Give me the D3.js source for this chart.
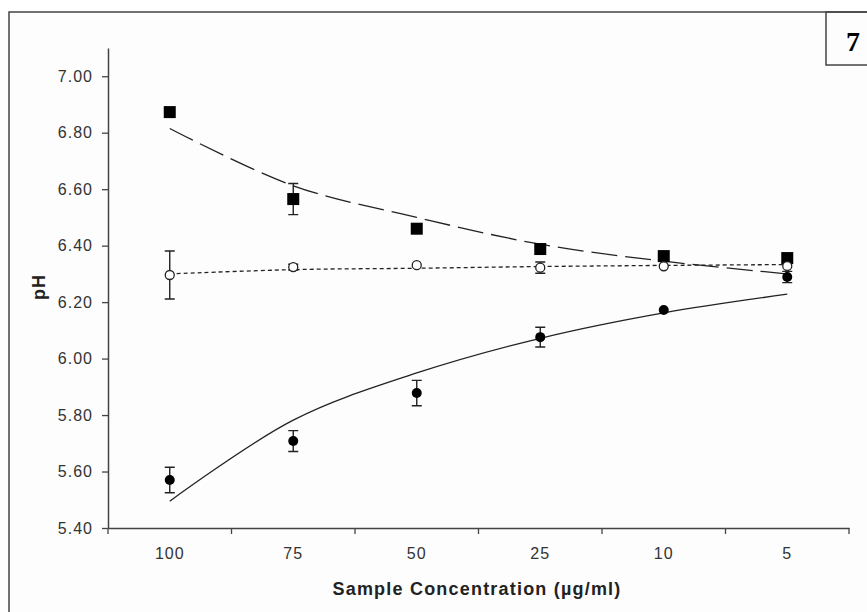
<!DOCTYPE html>
<html>
<head>
<meta charset="utf-8">
<script src="https://cdn.jsdelivr.net/npm/d3@7"></script>
<style>
  body { margin: 0; background: #fff; }
  text { font-family: "Liberation Sans", Arial, sans-serif; }
</style>
</head>
<body>
<div id="plot"></div>
<script>
// categories on the x axis
const concentrations = ["100", "75", "50", "25", "10", "5"];

// filled squares
const sqValues = [6.873, 6.565, 6.46, 6.388, 6.363, 6.356];
const sqErrors = [0, 0.055, 0, 0, 0, 0];
const sqTrend = [6.815, 6.612, 6.50, 6.405, 6.345, 6.30];

// open circles
const openValues = [6.296, 6.324, 6.331, 6.322, 6.327, 6.328];
const openErrors = [0.085, 0.01, 0, 0.02, 0, 0];
const openTrend = [6.30, 6.315, 6.32, 6.326, 6.33, 6.333];

// filled circles
const dotValues = [5.570, 5.708, 5.878, 6.076, 6.172, 6.289];
const dotErrors = [0.045, 0.037, 0.045, 0.035, 0, 0.02];
const dotTrend = [5.495, 5.782, 5.949, 6.072, 6.162, 6.228];

const yTicks = [5.4, 5.6, 5.8, 6.0, 6.2, 6.4, 6.6, 6.8, 7.0];

const width = 867, height = 612;

const svg = d3.select("#plot")
    .append("svg")
    .attr("width", width)
    .attr("height", height);

// outer frame (runs off the right and bottom edges)
svg.append("rect")
    .attr("x", 9).attr("y", 12)
    .attr("width", 900).attr("height", 700)
    .attr("fill", "#fdfdfd")
    .attr("stroke", "#444")
    .attr("stroke-width", 1.5);

// panel number box
svg.append("rect")
    .attr("x", 826).attr("y", 12)
    .attr("width", 60).attr("height", 53)
    .attr("fill", "none")
    .attr("stroke", "#444")
    .attr("stroke-width", 1.5);
svg.append("text")
    .attr("x", 853).attr("y", 51)
    .attr("text-anchor", "middle")
    .style("font-family", "'Liberation Serif', 'Times New Roman', serif")
    .style("font-weight", "bold")
    .style("font-size", "28px")
    .text("7");

const xScale = d3.scaleBand()
    .domain(concentrations)
    .range([108, 849])
    .padding(0);

const yScale = d3.scaleLinear()
    .domain([5.4, 7.1])
    .range([528, 48]);

const cx = (i) => xScale(concentrations[i]) + xScale.bandwidth() / 2;

// y axis
const yAxis = svg.append("g")
    .attr("transform", "translate(108,0)")
    .call(d3.axisLeft(yScale).tickValues(yTicks).tickFormat(d3.format(".2f")).tickSize(6).tickPadding(9).tickSizeOuter(0));
yAxis.select(".domain").attr("stroke", "#444").attr("stroke-width", 1.5);
yAxis.selectAll(".tick line").attr("stroke", "#444").attr("stroke-width", 1.3);
yAxis.selectAll("text")
    .attr("fill", "#333")
    .style("font-size", "16px")
    .style("letter-spacing", "1px");

// x axis: labels centred in bands, ticks on band edges
const xAxis = svg.append("g")
    .attr("transform", "translate(0,528)")
    .call(d3.axisBottom(xScale).tickSize(0).tickPadding(20));
xAxis.select(".domain").attr("stroke", "#444").attr("stroke-width", 1.5);
xAxis.selectAll("text")
    .attr("fill", "#333")
    .style("font-size", "16px")
    .style("letter-spacing", "1px");

const edges = concentrations.map(c => xScale(c)).concat([xScale.range()[1]]);
xAxis.selectAll(".edge-tick")
    .data(edges)
    .join("line")
    .attr("class", "edge-tick")
    .attr("x1", d => d).attr("x2", d => d)
    .attr("y1", 0).attr("y2", 6)
    .attr("stroke", "#444")
    .attr("stroke-width", 1.3);

// axis titles
svg.append("text")
    .attr("x", 477).attr("y", 595)
    .attr("text-anchor", "middle")
    .attr("fill", "#222")
    .style("letter-spacing", "1.2px")
    .style("font-weight", "bold")
    .style("font-size", "18px")
    .text("Sample Concentration (µg/ml)");

svg.append("text")
    .attr("transform", "translate(45,287) rotate(-90)")
    .attr("text-anchor", "middle")
    .attr("fill", "#222")
    .style("letter-spacing", "1px")
    .style("font-weight", "bold")
    .style("font-size", "18px")
    .text("pH");

// trend lines
const line = d3.line()
    .x((d, i) => cx(i))
    .y(d => yScale(d))
    .curve(d3.curveCatmullRom.alpha(0.5));

const trends = [
    { data: sqTrend, dash: "26,8" },
    { data: openTrend, dash: "4,3" },
    { data: dotTrend, dash: null }
];
svg.selectAll(".trend")
    .data(trends)
    .join("path")
    .attr("class", "trend")
    .attr("d", d => line(d.data))
    .attr("fill", "none")
    .attr("stroke", "#222")
    .attr("stroke-width", 1.3)
    .attr("stroke-dasharray", d => d.dash);

// error bars
const drawErrors = (vals, errs) => {
    const g = svg.append("g");
    const rows = vals.map((v, i) => ({ i, v, e: errs[i] })).filter(d => d.e > 0);
    g.selectAll(".eb")
        .data(rows)
        .join("path")
        .attr("class", "eb")
        .attr("d", d => {
            const x = cx(d.i), y1 = yScale(d.v + d.e), y2 = yScale(d.v - d.e);
            return `M${x},${y1}V${y2}M${x - 5},${y1}H${x + 5}M${x - 5},${y2}H${x + 5}`;
        })
        .attr("fill", "none")
        .attr("stroke", "#222")
        .attr("stroke-width", 1.4);
};
drawErrors(sqValues, sqErrors);
drawErrors(openValues, openErrors);
drawErrors(dotValues, dotErrors);

// markers
svg.selectAll(".sq")
    .data(sqValues)
    .join("rect")
    .attr("class", "sq")
    .attr("x", (d, i) => cx(i) - 6)
    .attr("y", d => yScale(d) - 6)
    .attr("width", 12).attr("height", 12)
    .attr("fill", "#000");

svg.selectAll(".open")
    .data(openValues)
    .join("circle")
    .attr("class", "open")
    .attr("cx", (d, i) => cx(i))
    .attr("cy", d => yScale(d))
    .attr("r", 4.5)
    .attr("fill", "#fff")
    .attr("stroke", "#222")
    .attr("stroke-width", 1.3);

svg.selectAll(".dot")
    .data(dotValues)
    .join("circle")
    .attr("class", "dot")
    .attr("cx", (d, i) => cx(i))
    .attr("cy", d => yScale(d))
    .attr("r", 5)
    .attr("fill", "#000");
</script>
</body>
</html>
